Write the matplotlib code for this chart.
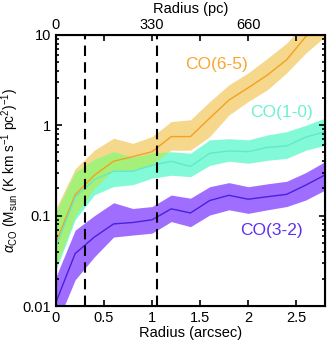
import matplotlib
matplotlib.use('Agg')
import matplotlib.pyplot as plt
import matplotlib.ticker as mticker
import numpy as np

plt.rcParams['font.family'] = ['Liberation Sans', 'DejaVu Sans']
plt.rcParams['mathtext.fontset'] = 'custom'
plt.rcParams['mathtext.rm'] = 'Liberation Sans'
plt.rcParams['mathtext.it'] = 'Liberation Sans:italic'

radius = [0.0, 0.2, 0.4, 0.6, 0.8, 1.0, 1.2, 1.4, 1.6, 1.8, 2.0, 2.2, 2.4, 2.6, 2.8]

co65_mid = [0.05, 0.17, 0.28, 0.40, 0.45, 0.51, 0.75, 0.75, 1.2, 1.9, 2.6, 3.6, 5.3, 9.6, 14.0]
co65_lo = [0.027, 0.10, 0.20, 0.32, 0.32, 0.37, 0.53, 0.53, 0.75, 1.3, 1.83, 2.47, 3.8, 6.3, 9.6]
co65_hi = [0.12, 0.33, 0.53, 0.72, 0.63, 0.75, 1.1, 1.15, 1.83, 2.8, 3.8, 5.5, 8.1, 14.0, 20.0]

co10_mid = [0.045, 0.16, 0.25, 0.31, 0.31, 0.36, 0.40, 0.35, 0.49, 0.52, 0.51, 0.57, 0.59, 0.74, 0.85]
co10_lo = [0.025, 0.09, 0.17, 0.21, 0.22, 0.26, 0.28, 0.27, 0.36, 0.40, 0.38, 0.41, 0.43, 0.53, 0.60]
co10_hi = [0.11, 0.30, 0.42, 0.51, 0.44, 0.49, 0.51, 0.49, 0.69, 0.71, 0.69, 0.78, 0.85, 1.0, 1.2]

co32_mid = [0.011, 0.038, 0.058, 0.081, 0.084, 0.090, 0.119, 0.107, 0.147, 0.168, 0.152, 0.162, 0.172, 0.218, 0.282]
co32_lo = [0.006, 0.0195, 0.035, 0.058, 0.061, 0.064, 0.086, 0.0755, 0.1016, 0.116, 0.106, 0.116, 0.126, 0.149, 0.192]
co32_hi = [0.021, 0.069, 0.10, 0.139, 0.12, 0.126, 0.169, 0.156, 0.209, 0.232, 0.209, 0.225, 0.24, 0.30, 0.396]

dashed_at = [0.3, 1.05]
top_ticks = [0, 0.5, 1, 1.5, 2, 2.5]
top_labels = ['0', '', '330', '', '660', '']

fig = plt.figure(figsize=(3.27, 3.41), dpi=100)
ax = fig.add_axes([0.171, 0.1026, 0.823, 0.795])

# bands, with the overlap of the CO(6-5) and CO(1-0) bands shown in green
ax.fill_between(radius, co65_lo, co65_hi, color='#f6d88c', lw=0)
ax.fill_between(radius, co10_lo, co10_hi, color='#82fad7', lw=0)
ov_lo = np.maximum(co65_lo, co10_lo)
ov_hi = np.minimum(co65_hi, co10_hi)
ax.fill_between(radius, ov_lo, ov_hi, where=ov_hi > ov_lo, interpolate=True, color='#a5f078', lw=0)
ax.fill_between(radius, co32_lo, co32_hi, color='#a06eff', lw=0)

ax.plot(radius, co65_mid, color='#f5a020', lw=1)
ax.plot(radius, co10_mid, color='#62eac8', lw=1)
ax.plot(radius, co32_mid, color='#4a1fe0', lw=1)

for xd in dashed_at:
    ax.axvline(xd, color='k', lw=1.5, ls=(0, (5, 3)))

ax.text(1.67, 4.65, 'CO(6-5)', color='#f7a830', fontsize=12.5, ha='center', va='center')
ax.text(2.35, 1.37, 'CO(1-0)', color='#6cf2d0', fontsize=12.5, ha='center', va='center')
ax.text(2.24, 0.069, 'CO(3-2)', color='#6030f0', fontsize=12.5, ha='center', va='center')

ax.set_yscale('log')
ax.set_ylim(0.01, 10)
ax.set_xlim(0, 2.8)
ax.set_yticks([0.01, 0.1, 1, 10])
ax.set_yticklabels(['0.01', '0.1', '1', '10'])
ax.yaxis.set_minor_formatter(mticker.NullFormatter())
ax.set_xticks([0, 0.5, 1, 1.5, 2, 2.5])
ax.set_xticklabels(['0', '0.5', '1', '1.5', '2', '2.5'])
ax.tick_params(direction='in', which='both', right=True, labelsize=10.5, width=1.2)
ax.tick_params(which='major', length=4)
ax.tick_params(which='minor', length=2)
for s in ax.spines.values():
    s.set_linewidth(1.5)

ax.set_xlabel('Radius (arcsec)', fontsize=10.5, labelpad=1)
ax.set_ylabel(r'$\alpha_{\rm CO}$ (M$_{\rm sun}$ (K km s$^{-1}$ pc$^{2}$)$^{-1}$)', fontsize=9.8, labelpad=1)

ax2 = ax.twiny()
ax2.set_xlim(ax.get_xlim())
ax2.set_xticks(top_ticks)
ax2.set_xticklabels(top_labels)
ax2.tick_params(direction='in', labelsize=10.5, length=4, width=1.2, pad=2)
ax2.set_xlabel('Radius (pc)', fontsize=10.5, labelpad=4)

fig.savefig('out.png', dpi=100)
